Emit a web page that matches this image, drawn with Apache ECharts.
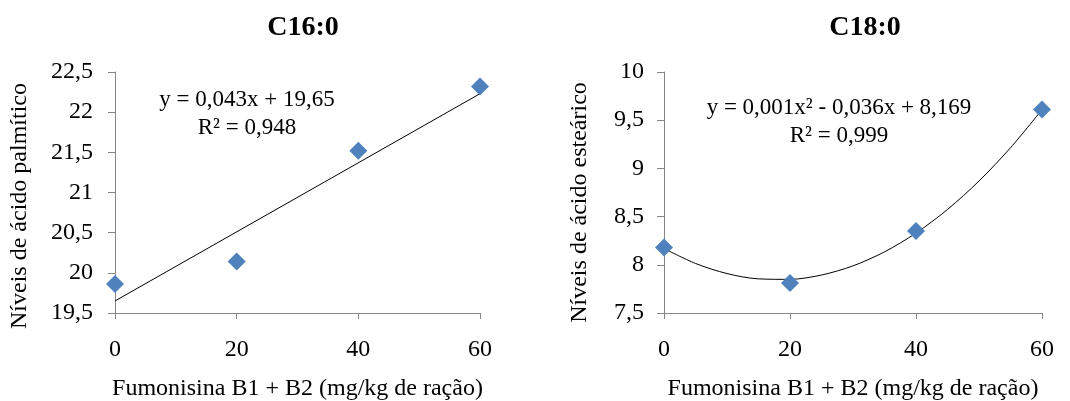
<!DOCTYPE html>
<html>
<head>
<meta charset="utf-8">
<script src="https://cdn.jsdelivr.net/npm/echarts@6/dist/echarts.min.js"></script>
<style>
  html, body { margin: 0; padding: 0; background: #fff; }
  #main { width: 1070px; height: 401px; }
</style>
</head>
<body>
<div id="main"></div>
<script>
// doses de fumonisina (x)
var doses = [0, 20, 40, 60];
// C16:0 - acido palmitico
var palmitico = [19.86, 20.14, 21.52, 22.32];
var palmTrendX = [0, 60];
var palmTrend = [19.65, 22.23];
// C18:0 - acido estearico
var estearico = [8.18, 7.81, 8.35, 9.61];
var estTrendX = [0, 5, 10, 15, 20, 25, 30, 35, 40, 45, 50, 55, 60];
var estTrend = [8.169, 8.014, 7.909, 7.854, 7.849, 7.894, 7.989, 8.134, 8.329, 8.574, 8.869, 9.214, 9.609];

var titulos = ['C16:0', 'C18:0'];
var equacoes = ['y = 0,043x + 19,65\nR² = 0,948', 'y = 0,001x² - 0,036x + 8,169\nR² = 0,999'];
var nomeX = 'Fumonisina B1 + B2 (mg/kg de ração)';
var nomesY = ['Níveis de ácido palmítico', 'Níveis de ácido esteárico'];

function pares(xs, ys) {
  var out = [];
  for (var i = 0; i < xs.length; i++) out.push([xs[i], ys[i]]);
  return out;
}

var fonte = 'Liberation Serif, Times New Roman, serif';
var cinza = '#868686';
var azul = '#4F81BD';

function eixoX(idx) {
  return {
    type: 'value', gridIndex: idx, min: 0, max: 60, interval: 20,
    name: nomeX, nameLocation: 'middle', nameGap: 64,
    nameTextStyle: { fontFamily: fonte, fontSize: 24, color: '#000' },
    axisLine: { lineStyle: { color: cinza, width: 1 } },
    axisTick: { show: true, inside: false, length: 6, lineStyle: { color: cinza } },
    axisLabel: { fontFamily: fonte, fontSize: 24, color: '#000', margin: 25 },
    splitLine: { show: false }
  };
}

function eixoY(idx, min, max, gap, margin, desloc) {
  return {
    type: 'value', gridIndex: idx, min: min, max: max, interval: 0.5,
    name: nomesY[idx], nameLocation: 'middle', nameGap: gap, nameRotate: 90,
    nameTextStyle: { fontFamily: fonte, fontSize: 24, color: '#000', padding: [0, desloc, 0, 0] },
    axisLine: { show: true, lineStyle: { color: cinza, width: 1 } },
    axisTick: { show: true, inside: false, length: 7, lineStyle: { color: cinza } },
    axisLabel: { fontFamily: fonte, fontSize: 24, color: '#000', margin: margin, formatter: rotulo },
    splitLine: { show: false }
  };
}

function rotulo(v) {
  return String(v).replace('.', ',');
}

var myChart = echarts.init(document.getElementById('main'));

var option = {
  backgroundColor: '#fff',
  animation: false,
  title: [
    { text: titulos[0], left: 298, top: 9, textAlign: 'center',
      textStyle: { fontFamily: fonte, fontSize: 28, fontWeight: 'bold', color: '#000' } },
    { text: titulos[1], left: 860, top: 9, textAlign: 'center',
      textStyle: { fontFamily: fonte, fontSize: 28, fontWeight: 'bold', color: '#000' } },
    { text: equacoes[0], left: 242, top: 81, textAlign: 'center',
      textStyle: { fontFamily: fonte, fontSize: 23, fontWeight: 'normal', color: '#000', lineHeight: 28 } },
    { text: equacoes[1], left: 834, top: 89, textAlign: 'center',
      textStyle: { fontFamily: fonte, fontSize: 23, fontWeight: 'normal', color: '#000', lineHeight: 28 } }
  ],
  grid: [
    { left: 115, right: 590, top: 72, bottom: 88, outerBoundsMode: 'none' },
    { left: 664, right: 28, top: 72, bottom: 88, outerBoundsMode: 'none' }
  ],
  xAxis: [eixoX(0), eixoX(1)],
  yAxis: [
    eixoY(0, 19.5, 22.5, 83, 22, 27),
    eixoY(1, 7.5, 10, 72, 20, 20)
  ],
  series: [
    { type: 'line', xAxisIndex: 0, yAxisIndex: 0, data: pares(palmTrendX, palmTrend),
      symbol: 'none', lineStyle: { color: '#000', width: 1 }, z: 2, silent: true },
    { type: 'scatter', xAxisIndex: 0, yAxisIndex: 0, data: pares(doses, palmitico),
      symbol: 'diamond', symbolSize: 18, itemStyle: { color: azul, opacity: 1 }, z: 3 },
    { type: 'line', xAxisIndex: 1, yAxisIndex: 1, data: pares(estTrendX, estTrend),
      symbol: 'none', smooth: 0.3, lineStyle: { color: '#000', width: 1 }, z: 2, silent: true },
    { type: 'scatter', xAxisIndex: 1, yAxisIndex: 1, data: pares(doses, estearico),
      symbol: 'diamond', symbolSize: 18, itemStyle: { color: azul, opacity: 1 }, z: 3 }
  ]
};

myChart.setOption(option);
</script>
</body>
</html>
